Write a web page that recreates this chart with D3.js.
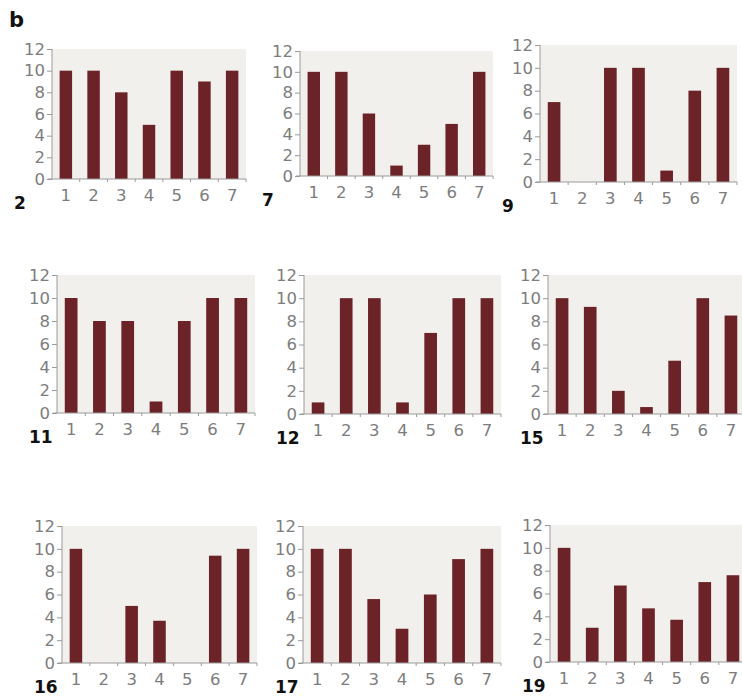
<!DOCTYPE html>
<html>
<head>
<meta charset="utf-8">
<script src="https://cdn.jsdelivr.net/npm/d3@7"></script>
<style>
  body { margin: 0; background: #fff; }
  svg { display: block; }
</style>
</head>
<body>
<svg id="canvas"></svg>
<script>
// categories on the x axis and y ticks
const categories = ["1", "2", "3", "4", "5", "6", "7"];
const yTicks = [0, 2, 4, 6, 8, 10, 12];

// one small array per panel (panel number -> bar heights)
const panelIds = [2, 7, 9, 11, 12, 15, 16, 17, 19];
const panel2  = [10, 10, 8, 5, 10, 9, 10];
const panel7  = [10, 10, 6, 1, 3, 5, 10];
const panel9  = [7, 0, 10, 10, 1, 8, 10];
const panel11 = [10, 8, 8, 1, 8, 10, 10];
const panel12 = [1, 10, 10, 1, 7, 10, 10];
const panel15 = [10, 9.25, 2, 0.6, 4.6, 10, 8.5];
const panel16 = [10, 0, 5, 3.7, 0, 9.4, 10];
const panel17 = [10, 10, 5.6, 3, 6, 9.1, 10];
const panel19 = [10, 3, 6.7, 4.7, 3.7, 7, 7.6];
const panelValues = [panel2, panel7, panel9, panel11, panel12, panel15, panel16, panel17, panel19];

const width = 742;
const height = 697;
const svg = d3.select("#canvas").attr("width", width).attr("height", height);

// where each little panel sits: y-axis x, top (12), bottom (0), right edge
const layout = [
    [52, 49, 179, 246], [300, 51, 176, 493], [540, 45, 182, 737],
    [57, 275, 413, 255], [304, 275, 414, 501], [548, 275, 414, 745],
    [62, 526, 663, 257], [303, 526, 663, 501], [550, 525, 662, 747]
];

const barColor = "#6b2327";
const bgColor = "#f2f0ed";
const axisColor = "#9a9a9a";
const tickText = "#7d7d7d";
const font = "DejaVu Sans, sans-serif";

svg.append("text")
    .attr("x", 9).attr("y", 27)
    .attr("font-family", font)
    .attr("font-weight", "bold")
    .attr("font-size", 21)
    .attr("fill", "#111")
    .text("b");

panelIds.forEach((id, p) => {
    const [x0, yTop, yBot, xRight] = layout[p];
    const values = panelValues[p];

    const x = d3.scaleBand()
        .domain(categories)
        .range([x0, xRight])
        .paddingInner(0.55)
        .paddingOuter(0.275);

    const y = d3.scaleLinear()
        .domain([0, 12])
        .range([yBot, yTop]);

    const g = svg.append("g");

    // grey plot background
    g.append("rect")
        .attr("x", x0)
        .attr("y", y(12))
        .attr("width", xRight - x0)
        .attr("height", y(0) - y(12))
        .attr("fill", bgColor);

    g.selectAll("rect.bar")
        .data(values)
        .join("rect")
        .attr("class", "bar")
        .attr("x", (d, i) => x(categories[i]))
        .attr("width", x.bandwidth())
        .attr("y", d => y(d))
        .attr("height", d => y(0) - y(d))
        .attr("fill", barColor);

    // y axis
    const yAxis = g.append("g")
        .attr("transform", `translate(${x0},0)`)
        .call(d3.axisLeft(y).tickValues(yTicks).tickSize(5).tickPadding(2));
    yAxis.select(".domain").attr("stroke", axisColor).attr("d", `M0,${y(12)}V${y(0)}`);
    yAxis.selectAll(".tick line").attr("stroke", axisColor);
    yAxis.selectAll(".tick text")
        .attr("font-family", font)
        .attr("font-size", 16.5)
        .attr("fill", tickText);

    // x axis: labels centred under bars, small ticks at band edges
    const xAxis = g.append("g")
        .attr("transform", `translate(0,${yBot})`)
        .call(d3.axisBottom(x).tickSize(0).tickPadding(10));
    xAxis.select(".domain").attr("stroke", axisColor).attr("d", `M${x0 - 4},0H${xRight}`);
    xAxis.selectAll(".tick text")
        .attr("font-family", font)
        .attr("font-size", 16.5)
        .attr("fill", tickText);

    const step = x.step();
    g.selectAll("line.xt")
        .data(categories)
        .join("line")
        .attr("class", "xt")
        .attr("x1", d => x(d) - x.paddingOuter() * step + step)
        .attr("x2", d => x(d) - x.paddingOuter() * step + step)
        .attr("y1", yBot)
        .attr("y2", yBot + 3)
        .attr("stroke", axisColor);

    // panel number
    g.append("text")
        .attr("x", x0 - (id < 10 ? 38 : 28))
        .attr("y", yBot + 30)
        .attr("font-family", font)
        .attr("font-weight", "bold")
        .attr("font-size", 17)
        .attr("fill", "#111")
        .text(id);
});
</script>
</body>
</html>
